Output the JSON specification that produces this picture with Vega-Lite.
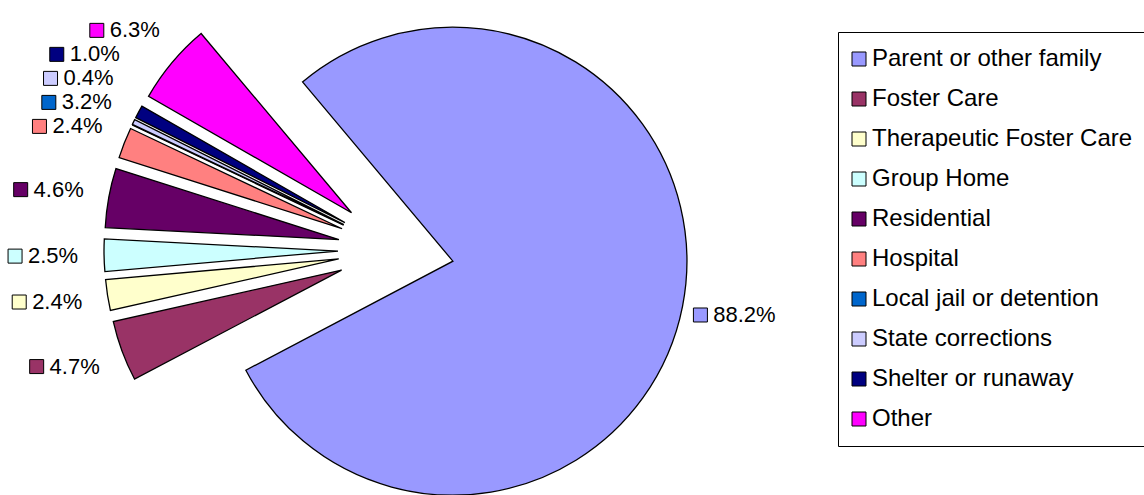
{
  "$schema": "https://vega.github.io/schema/vega-lite/v6.json",
  "width": 1144,
  "height": 495,
  "padding": 0,
  "autosize": {"type": "none"},
  "background": "white",
  "config": {
    "view": {"stroke": null},
    "font": "Liberation Sans",
    "legend": {"strokeWidth": 1}
  },
  "data": {
    "values": [
      {"category": "Parent or other family", "value": 88.2, "label": "88.2%"},
      {"category": "Foster Care", "value": 4.7, "label": "4.7%"},
      {"category": "Therapeutic Foster Care", "value": 2.4, "label": "2.4%"},
      {"category": "Group Home", "value": 2.5, "label": "2.5%"},
      {"category": "Residential", "value": 4.6, "label": "4.6%"},
      {"category": "Hospital", "value": 2.4, "label": "2.4%"},
      {"category": "Local jail or detention", "value": 0, "label": "3.2%"},
      {"category": "State corrections", "value": 0.4, "label": "0.4%"},
      {"category": "Shelter or runaway", "value": 1.0, "label": "1.0%"},
      {"category": "Other", "value": 6.3, "label": "6.3%"}
    ]
  },
  "transform": [
    {"window": [{"op": "row_number", "as": "idx"}, {"op": "sum", "field": "value", "as": "cum"}], "frame": [null, 0]},
    {"joinaggregate": [{"op": "sum", "field": "value", "as": "total"}]},
    {"calculate": "-0.698132 + 2*PI*(datum.cum - datum.value/2)/datum.total", "as": "mid"},
    {"calculate": "0.2479*sin(datum.mid)", "as": "ax"},
    {"calculate": "0.2479*cos(datum.mid)", "as": "ay"},
    {"calculate": "1.5*sin(datum.mid)", "as": "lx"},
    {"calculate": "1.44*cos(datum.mid)", "as": "ly0"},
    {"calculate": "sin(datum.mid) < 0 ? 'L' : 'R'", "as": "side"},
    {"calculate": "datum.ly0 - 0.1026*datum.idx", "as": "a"},
    {"window": [{"op": "max", "field": "a", "as": "amax"}], "groupby": ["side"], "sort": [{"field": "idx", "order": "ascending"}], "frame": [null, 0]},
    {"calculate": "datum.amax + 0.1026*datum.idx", "as": "ly"}
  ],
  "encoding": {
    "color": {
      "field": "category",
      "type": "nominal",
      "scale": {
        "domain": ["Parent or other family", "Foster Care", "Therapeutic Foster Care", "Group Home", "Residential", "Hospital", "Local jail or detention", "State corrections", "Shelter or runaway", "Other"],
        "range": ["#9999FF", "#993366", "#FFFFCC", "#CCFFFF", "#660066", "#FF8080", "#0066CC", "#CCCCFF", "#000080", "#FF00FF"]
      },
      "legend": {
        "title": null,
        "orient": "none",
        "legendX": 838,
        "legendY": 32,
        "direction": "vertical",
        "symbolType": "square",
        "symbolSize": 196,
        "symbolStrokeColor": "black",
        "symbolStrokeWidth": 1,
        "symbolOffset": -6,
        "symbolOpacity": 1,
        "labelFont": "Liberation Sans",
        "labelFontSize": 24,
        "labelColor": "black",
        "labelOffset": 1,
        "labelLimit": 400,
        "rowPadding": 16,
        "padding": 15,
        "strokeColor": "black",
        "fillColor": "white"
      }
    }
  },
  "layer": [
    {
      "mark": {"type": "arc", "outerRadius": 234, "stroke": "black", "strokeWidth": 1.3, "strokeJoin": "miter"},
      "encoding": {
        "theta": {"field": "value", "type": "quantitative", "stack": true, "scale": {"range": [-0.698132, 5.585054]}},
        "order": {"field": "idx", "type": "quantitative"},
        "x": {"field": "ax", "type": "quantitative", "scale": {"domain": [-1.6923, 3.1966], "nice": false, "zero": false}, "axis": null},
        "y": {"field": "ay", "type": "quantitative", "scale": {"domain": [-1.047, 1.0684], "nice": false, "zero": false}, "axis": null}
      }
    },
    {
      "transform": [{"filter": "datum.side == 'L'"}],
      "mark": {"type": "point", "shape": "square", "size": 196, "filled": true, "stroke": "black", "strokeWidth": 1, "opacity": 1, "xOffset": -30},
      "encoding": {
        "x": {"field": "lx", "type": "quantitative", "scale": {"domain": [-1.6923, 3.1966], "nice": false, "zero": false}, "axis": null},
        "y": {"field": "ly", "type": "quantitative", "scale": {"domain": [-1.047, 1.0684], "nice": false, "zero": false}, "axis": null}
      }
    },
    {
      "transform": [{"filter": "datum.side == 'R'"}],
      "mark": {"type": "point", "shape": "square", "size": 196, "filled": true, "stroke": "black", "strokeWidth": 1, "opacity": 1, "xOffset": -40},
      "encoding": {
        "x": {"field": "lx", "type": "quantitative", "scale": {"domain": [-1.6923, 3.1966], "nice": false, "zero": false}, "axis": null},
        "y": {"field": "ly", "type": "quantitative", "scale": {"domain": [-1.047, 1.0684], "nice": false, "zero": false}, "axis": null}
      }
    },
    {
      "transform": [{"filter": "datum.side == 'L'"}],
      "mark": {"type": "text", "fontSize": 22, "font": "Liberation Sans", "dx": 8, "align": "center", "baseline": "middle"},
      "encoding": {
        "x": {"field": "lx", "type": "quantitative", "scale": {"domain": [-1.6923, 3.1966], "nice": false, "zero": false}, "axis": null},
        "y": {"field": "ly", "type": "quantitative", "scale": {"domain": [-1.047, 1.0684], "nice": false, "zero": false}, "axis": null},
        "text": {"field": "label"},
        "color": {"value": "black"}
      }
    },
    {
      "transform": [{"filter": "datum.side == 'R'"}],
      "mark": {"type": "text", "fontSize": 22, "font": "Liberation Sans", "dx": 4, "align": "center", "baseline": "middle"},
      "encoding": {
        "x": {"field": "lx", "type": "quantitative", "scale": {"domain": [-1.6923, 3.1966], "nice": false, "zero": false}, "axis": null},
        "y": {"field": "ly", "type": "quantitative", "scale": {"domain": [-1.047, 1.0684], "nice": false, "zero": false}, "axis": null},
        "text": {"field": "label"},
        "color": {"value": "black"}
      }
    }
  ]
}
